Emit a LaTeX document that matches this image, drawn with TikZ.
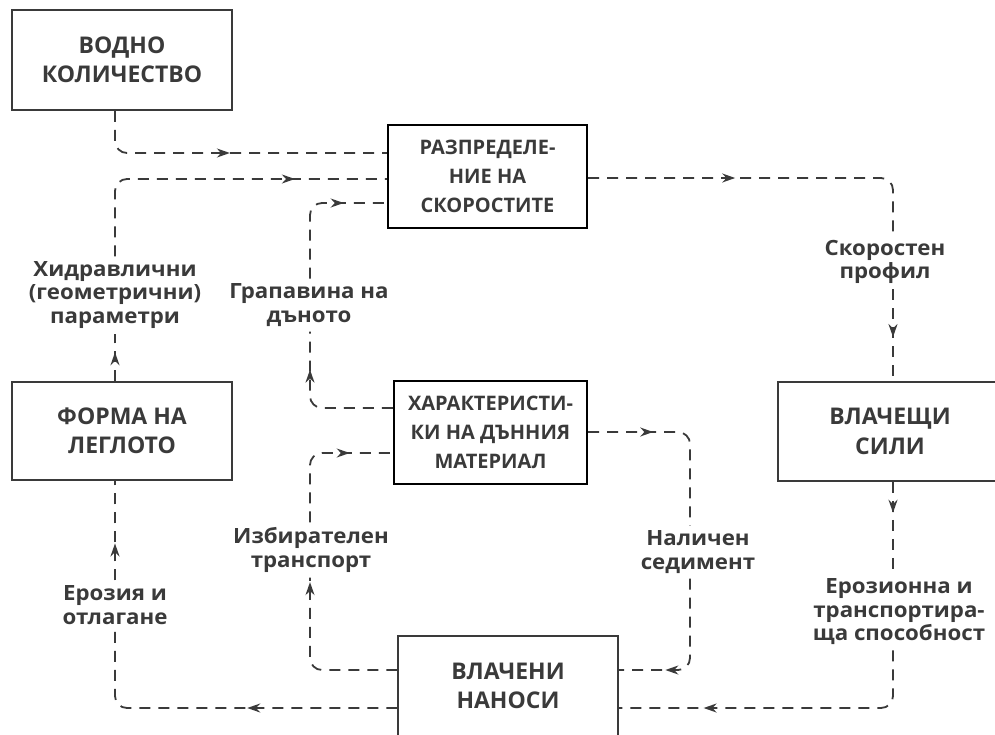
\documentclass[tikz,border=0pt]{standalone}
\usepackage{fontspec}
\setmainfont{Open Sans}
\newfontfamily\lblfont{Open Sans}[FakeStretch=1.06]
\usetikzlibrary{arrows.meta,decorations.markings}
\definecolor{ink}{HTML}{3A3A3A}

\begin{document}
\begin{tikzpicture}[x=1pt,y=-1pt,
	box/.style={draw=ink,line width=1.5pt,align=center,text=ink,font=\fontsize{23}{29.5}\selectfont\bfseries},
	heavybox/.style={draw=black,line width=2.4pt,align=center,text=ink,font=\fontsize{20}{29}\selectfont\bfseries},
	lbl/.style={align=center,text=ink,inner sep=5pt,font=\fontsize{21}{23.5}\lblfont\bfseries},
	flow/.style={draw=ink,line width=1.8pt,dash pattern=on 11pt off 8pt,rounded corners=12pt},
	arrowat/.style={postaction={decorate},decoration={markings,
		mark=at position #1 with {\arrow{Stealth[length=13pt,width=9pt]}}}}]
		\useasboundingbox (0,0) rectangle (995,734);
		\node[box,minimum width=220pt,minimum height=100pt] (water) at (122,60) {ВОДНО\\КОЛИЧЕСТВО};
		\node[heavybox,minimum width=199pt,minimum height=103pt] (velocity) at (487.5,176.5) {РАЗПРЕДЕЛЕ-\\НИЕ НА\\СКОРОСТИТЕ};
		\node[box,minimum width=220pt,minimum height=98pt] (bedform) at (122,431) {ФОРМА НА\\ЛЕГЛОТО};
		\node[heavybox,minimum width=193pt,minimum height=103pt] (bedmat) at (490.5,432.5) {ХАРАКТЕРИСТИ-\\КИ НА ДЪННИЯ\\МАТЕРИАЛ};
		\node[box,minimum width=224pt,minimum height=99pt] (shear) at (890,431.5) {ВЛАЧЕЩИ\\СИЛИ};
		\node[box,minimum width=220pt,minimum height=100pt] (bedload) at (508,686) {ВЛАЧЕНИ\\НАНОСИ};
		\node[lbl] (hydr) at (115,295) {Хидравлични\\(геометрични)\\параметри};
		\node[lbl] (rough) at (309,305) {Грапавина на\\дъното};
		\node[lbl] (vprof) at (885,262) {Скоростен\\профил};
		\node[lbl] (capacity) at (899,612) {Ерозионна и\\транспортира-\\ща способност};
		\node[lbl] (supply) at (698,552) {Наличен\\седимент};
		\node[lbl] (select) at (311,550) {Избирателен\\транспорт};
		\node[lbl] (erosion) at (115,605) {Ерозия и\\отлагане};
		\draw[flow,arrowat=152pt] (115,0 |- water.south) |- (velocity.west |- 0,153);
		\draw[flow,arrowat=29pt] (115,0 |- bedform.north) -- (115,0 |- hydr.south);
		\draw[flow,arrowat=252pt] (115,0 |- hydr.north) |- (velocity.west |- 0,179);
		\draw[flow,arrowat=116pt] (bedmat.west |- 0,408) -| (310,0 |- rough.south);
		\draw[flow,arrowat=104pt] (310,0 |- rough.north) |- (velocity.west |- 0,203);
		\draw[flow,arrowat=147pt] (velocity.east |- 0,178) -| (893,0 |- vprof.north);
		\draw[flow,arrowat=48pt] (893,0 |- vprof.south) -- (893,0 |- shear.north);
		\draw[flow,arrowat=31pt] (893,0 |- shear.south) -- (893,0 |- capacity.north);
		\draw[flow,arrowat=242pt] (893,0 |- capacity.south) |- (bedload.east |- 0,708);
		\draw[flow,arrowat=65pt] (bedmat.east |- 0,432) -| (690,0 |- supply.north);
		\draw[flow,arrowat=111pt] (690,0 |- supply.south) |- (bedload.east |- 0,670);
		\draw[flow,arrowat=170pt] (bedload.west |- 0,670) -| (310,0 |- select.south);
		\draw[flow,arrowat=104pt] (310,0 |- select.north) |- (bedmat.west |- 0,453);
		\draw[flow,arrowat=150pt] (bedload.west |- 0,708) -| (115,0 |- erosion.south);
		\draw[flow,arrowat=37pt] (115,0 |- erosion.north) -- (115,0 |- bedform.south);
\end{tikzpicture}
\end{document}
